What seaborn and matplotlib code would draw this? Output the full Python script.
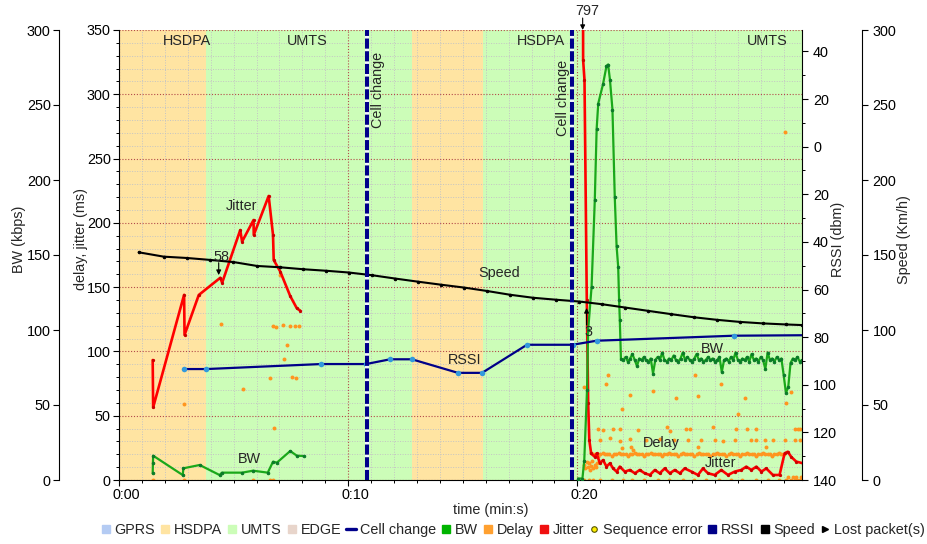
import numpy as np
import matplotlib
matplotlib.use("Agg")
import matplotlib.pyplot as plt
import seaborn as sns
from matplotlib.lines import Line2D
from matplotlib.ticker import MultipleLocator, FixedLocator, FuncFormatter
from matplotlib.transforms import ScaledTranslation

# ---------------- network periods (seconds) ----------------
span_start = [0.0, 3.81, 12.79, 15.87]
span_end = [3.81, 12.79, 15.87, 29.8]
span_net = ["HSDPA", "UMTS", "HSDPA", "UMTS"]
net_label_t = [2.97, 8.20, 18.41, 28.29]
cell_change_t = [10.82, 19.78]

# ---------------- speed (km/h) ----------------
speed_t = [0.86, 1.95, 2.97, 3.99, 4.99, 6.02, 7.04, 8.04, 9.04, 10.04, 11.05, 12.05,
           13.05, 14.05, 15.05, 16.06, 17.06, 18.06, 19.06, 20.07, 21.07, 22.07, 23.07,
           24.08, 25.08, 26.08, 27.08, 28.09, 29.09, 29.78]
speed_kmh = [151.8, 148.9, 148.0, 146.7, 145.3, 142.7, 141.8, 140.5, 139.5, 138.3, 136.5,
             134.3, 132.2, 130.2, 128.3, 126.0, 123.5, 121.5, 120.2, 119.0, 117.2, 115.0,
             112.8, 110.6, 108.5, 106.8, 105.4, 104.4, 103.7, 103.3]

# ---------------- RSSI (dBm) ----------------
rssi_t = [2.82, 3.81, 8.81, 10.78, 11.83, 12.78, 14.79, 15.84, 17.80, 19.79, 20.84, 26.82, 29.83]
rssi_dbm = [-93.4, -93.4, -91.3, -91.3, -89.3, -89.3, -95.0, -95.0, -83.2, -83.2, -81.5, -79.4, -79.2]

# ---------------- jitter (ms) ----------------
jitter1_t = [1.47, 1.49, 2.84, 2.86, 3.48, 4.42, 4.50, 5.29, 5.37, 5.87, 5.88, 6.53, 6.72,
             6.75, 7.04, 7.47, 7.76, 7.91]
jitter1_ms = [93.3, 56.5, 144.0, 112.8, 143.9, 157.3, 153.4, 194.4, 185.4, 202.2, 190.6,
              220.9, 190.6, 171.1, 162.0, 143.1, 133.5, 131.7]
jitter2_t = [20.23, 20.25, 20.31, 20.41, 20.47, 20.52, 20.60, 20.76, 20.84, 20.98, 21.12,
             21.27, 21.42, 21.56, 21.71, 21.85, 22.07, 22.29, 22.51, 22.72, 22.94, 23.16,
             23.38, 23.59, 23.81, 24.03, 24.25, 24.47, 24.68, 24.98, 25.26, 25.48, 25.70,
             25.99, 26.28, 26.57, 26.86, 27.15, 27.37, 27.59, 27.81, 28.03, 28.24, 28.53,
             28.82, 29.04, 29.18, 29.33, 29.55, 29.84]
jitter2_ms = [797, 326.7, 311.1, 140, 60, 31, 20.7, 18, 20.7, 13, 15.5, 10.4, 13, 9, 6.5,
              10.4, 6.5, 7.8, 5.2, 7.8, 5.2, 3.9, 7.8, 5.2, 9, 5.2, 7.8, 5.2, 9, 6.5, 3.9,
              9, 5.2, 3.9, 7.8, 3.9, 6.5, 7.8, 10.4, 7.8, 10.4, 6.5, 9, 3.9, 3.9, 20.7, 22,
              18, 14.3, 13]

# ---------------- bandwidth (kbps) ----------------
bw1_t = [1.47, 1.48, 1.49, 2.78, 2.81, 3.52, 4.39, 4.49, 5.37, 5.85, 6.49, 6.72, 6.89,
         7.47, 7.76, 8.05]
bw1_kbps = [4.4, 11.1, 16.2, 3.3, 7.8, 10.0, 3.3, 4.9, 4.9, 6.2, 4.9, 12.2, 11.6, 19.3,
            16.2, 16.0]
bw2_t = [20.03, 20.22, 20.30, 20.42, 20.47, 20.62, 20.76, 20.84, 20.91, 21.12, 21.27,
         21.34, 21.42, 21.53, 21.63, 21.71, 21.78, 21.82, 21.85]
bw2_kbps = [1, 1, 13, 60, 100, 129, 187, 234, 251, 264, 276, 277, 267, 247, 189, 156,
            142, 120, 107]
# steady part, one sample every 0.1 s from 21.9 s
bw_steady_t0, bw_steady_dt = 21.9, 0.1
bw_steady_kbps = [81, 80, 82, 79, 81, 84, 80, 76, 81, 80,
                  82, 80, 79, 81, 71, 80, 82, 80, 85, 80,
                  79, 81, 80, 83, 80, 79, 81, 85, 80, 82,
                  80, 79, 81, 84, 80, 81, 79, 80, 82, 80,
                  81, 79, 80, 82, 72, 80, 81, 79, 82, 80,
                  85, 80, 79, 81, 80, 82, 79, 84, 80, 81,
                  79, 82, 80, 74, 85, 80, 81, 79, 82, 80,
                  81, 70, 58, 62, 78, 81, 80, 82, 79, 80]

# ---------------- one-way delay (ms) ----------------
delay_t = [4.47, 2.85, 5.39, 6.72, 6.86, 7.14, 7.47, 7.66, 7.86, 7.34, 7.22, 6.57, 7.55,
           7.73, 6.75, 7.04, 1.49, 2.82, 5.85, 6.57, 6.72,
           20.28, 21.27, 21.34, 22.29, 21.93, 23.30, 24.32, 25.12, 25.26, 26.28, 27.01,
           27.30, 29.12, 29.30, 29.07,
           20.91, 21.12, 21.56, 21.85, 22.65, 23.89, 24.03, 24.76, 24.90, 25.92, 26.94,
           27.42, 27.81, 29.48, 29.62, 29.70,
           20.98, 21.42, 21.85, 22.30, 23.00, 23.60, 24.20, 24.83, 25.41, 25.99, 26.35,
           26.86, 27.59, 27.81, 28.17, 28.53, 29.04, 29.48, 29.70,
           21.93, 22.36, 22.43, 25.26, 28.24,
           20.30, 20.35, 20.40, 20.45, 20.50, 20.55, 20.60, 20.65, 20.70, 20.75, 20.80, 20.85,
           20.3, 20.5, 20.7, 21.0, 21.5, 22.0, 22.4, 22.9, 23.5, 24.0, 24.6, 25.1, 25.6,
           26.2, 26.7, 27.2, 27.8, 28.3, 28.8, 29.1, 29.3, 29.5, 29.6, 29.7,
           29.2, 29.4, 29.55, 29.75]
delay_ms = [121, 58.9, 70.8, 119.8, 119.3, 120.6, 119.8, 119.8, 119.8, 105, 93.9, 79.6, 80.2,
            79.6, 40.2, 159.4, 0, 0, 0, 0, 0,
            72, 75, 81.7, 66, 55, 69, 63.5, 81.7, 65.6, 74.7, 51.3, 63.5, 59.6, 68.7, 271,
            40, 39, 40, 40, 39, 41, 38, 40, 40, 41, 40, 40, 40, 40, 40, 40,
            31, 33, 30, 32, 31, 32, 31, 31, 31, 31, 30, 31, 31, 31, 31, 31, 31, 31, 31,
            24.6, 26, 23, 26, 25.4,
            12, 9, 14, 10, 13, 8, 11, 15, 9, 12, 10, 13,
            0, 0, 0, 0, 0, 0, 0, 0, 0, 0, 0, 0, 0, 0, 0, 0, 0, 0, 0, 0, 0, 0, 0, 0,
            2.6, 2.6, 2.6, 2.6]
# dense delay band, one sample every 0.1 s from 20.6 s
delay_band_t0, delay_band_dt = 20.6, 0.1
delay_band_ms = [21, 20, 20, 19, 20, 21, 20, 20, 20, 19,
                 20, 20, 21, 20, 20, 20, 19, 20, 20, 21,
                 20, 20, 20, 19, 20, 20, 21, 20, 20, 20,
                 20, 19, 20, 20, 21, 20, 20, 20, 19, 20,
                 21, 20, 20, 20, 20, 19, 20, 21, 20, 20,
                 20, 20, 19, 20, 20, 21, 20, 20, 20, 19,
                 20, 21, 20, 20, 20, 19, 20, 20, 21, 20,
                 20, 20, 19, 20, 20, 21, 20, 20, 20, 19,
                 20, 20, 21, 20, 20]

# ---------------- style ----------------
sns.set_style("ticks")
plt.rcParams["font.family"] = ["Liberation Sans", "DejaVu Sans"]
FS = 10.4
NET_COLORS = {"GPRS": "#b4cbf3", "HSDPA": "#ffe4a2", "UMTS": "#ccfdb8", "EDGE": "#e8d5cb"}
C_BW, C_BW_MK = "#1aa81a", "#0b7a2a"
C_DELAY = "#ff951f"
C_JITTER = "#ff0000"
C_RSSI, C_RSSI_MK = "#000088", "#3399dd"
C_CELL = "#00008b"

W, H = 927, 544
L, R, T, B = 119, 802, 30, 480
fig = plt.figure(figsize=(W / 100, H / 100), dpi=100)
ax = fig.add_axes([L / W, 1 - B / H, (R - L) / W, (B - T) / H])
ax_bw = ax.twinx()
ax_rssi = ax.twinx()
ax_speed = ax.twinx()

# background periods
for t0, t1, net in zip(span_start, span_end, span_net):
    ax.axvspan(t0, t1, color=NET_COLORS[net], lw=0, zorder=0)

# grid
ax.set_axisbelow(True)
ax.grid(which="major", color="#b34a4a", ls=(0, (1, 1.6)), lw=0.8)
ax.grid(which="minor", color="#c4c4c4", ls=(0, (1, 1.6)), lw=0.7)

# delay and jitter
band_t = delay_band_t0 + delay_band_dt * np.arange(len(delay_band_ms))
sns.scatterplot(x=list(delay_t) + list(band_t), y=list(delay_ms) + list(delay_band_ms),
                color=C_DELAY, s=8, linewidth=0, ax=ax, zorder=2)
for jt, jv in ((jitter1_t, jitter1_ms), (jitter2_t, jitter2_ms)):
    sns.lineplot(x=jt, y=jv, sort=False, estimator=None, color=C_JITTER, lw=1.9,
                 marker="o", markersize=1.6, markeredgecolor="#cc0000",
                 markerfacecolor="#cc0000", ax=ax, zorder=3)

# bandwidth
steady_t = bw_steady_t0 + bw_steady_dt * np.arange(len(bw_steady_kbps))
bw_second_t = list(bw2_t) + list(steady_t)
bw_second_v = list(bw2_kbps) + list(bw_steady_kbps)
for bt, bv in ((bw1_t, bw1_kbps), (bw_second_t, bw_second_v)):
    sns.lineplot(x=bt, y=bv, sort=False, estimator=None, color=C_BW, lw=1.6,
                 marker="o", markersize=1.8, markerfacecolor=C_BW_MK,
                 markeredgecolor=C_BW_MK, ax=ax_bw)

# RSSI
sns.lineplot(x=rssi_t, y=rssi_dbm, sort=False, estimator=None, color=C_RSSI, lw=1.6,
             ax=ax_rssi)
sns.scatterplot(x=rssi_t[:-1], y=rssi_dbm[:-1], color=C_RSSI_MK, s=16, linewidth=0,
                ax=ax_rssi, zorder=3)

# speed
sns.lineplot(x=speed_t, y=speed_kmh, sort=False, estimator=None, color="black", lw=1.5,
             marker="o", markersize=1.8, markeredgecolor="black", ax=ax_speed)

# cell changes
for tc in cell_change_t:
    ax_speed.axvline(tc, color=C_CELL, lw=2.9, dashes=(2.5, 0.65), gapcolor="#f2f4ff",
                     zorder=5)

# ---------------- axes ----------------
ax.set_xlim(0, 29.8)
ax.set_ylim(0, 350)
ax_bw.set_ylim(0, 300)
ax_rssi.set_ylim(-140, 49)
ax_speed.set_ylim(0, 300)

ax.xaxis.set_major_locator(FixedLocator([0, 10, 20]))
ax.xaxis.set_minor_locator(MultipleLocator(1))
ax.xaxis.set_major_formatter(FuncFormatter(lambda v, p: f"{int(v // 60)}:{int(v % 60):02d}"))
ax.yaxis.set_major_locator(MultipleLocator(50))
ax.yaxis.set_minor_locator(MultipleLocator(10))
ax_bw.yaxis.set_major_locator(MultipleLocator(50))
ax_speed.yaxis.set_major_locator(MultipleLocator(50))
ax_rssi.yaxis.set_major_locator(MultipleLocator(20))
ax_rssi.yaxis.set_minor_locator(MultipleLocator(10))
ax_rssi.yaxis.set_major_formatter(FuncFormatter(lambda v, p: f"{abs(v):.0f}"))

ax_bw.yaxis.tick_left()
ax_bw.yaxis.set_label_position("left")
ax_bw.spines["left"].set_position(("outward", 43.2))
ax_speed.spines["right"].set_position(("outward", 43.2))

for a in (ax, ax_bw, ax_rssi, ax_speed):
    for s in a.spines.values():
        s.set_visible(False)
        s.set_color("black")
        s.set_linewidth(0.8)
    a.tick_params(which="major", length=4, width=0.8, direction="out", colors="black",
                  labelsize=FS, pad=2)
    a.tick_params(which="minor", length=2.2, width=0.7, direction="out", colors="black")
ax.spines["left"].set_visible(True)
ax.spines["bottom"].set_visible(True)
ax_bw.spines["left"].set_visible(True)
ax_rssi.spines["right"].set_visible(True)
ax_speed.spines["right"].set_visible(True)
ax_rssi.tick_params(axis="y", which="major", pad=4)
ax_speed.tick_params(axis="y", which="major", pad=3.5)

ax.set_xlabel("time (min:s)", fontsize=FS)
ax.xaxis.set_label_coords(0.545, -0.0667)
ax.xaxis.label.set_va("center")
labels = ((ax, "delay, jitter (ms)", -0.0556), (ax_bw, "BW (kbps)", -0.1457),
          (ax_rssi, "RSSI (dbm)", 1.0525), (ax_speed, "Speed (Km/h)", 1.149))
for a, txt, xpos in labels:
    a.set_ylabel(txt, fontsize=FS)
    a.yaxis.set_label_coords(xpos, 0.535)
    a.yaxis.label.set_va("center")

shift = ScaledTranslation(7 / 100, 0, fig.dpi_scale_trans)
for lab in ax.get_xticklabels():
    lab.set_transform(lab.get_transform() + shift)

# ---------------- annotations ----------------
for t, net in zip(net_label_t, span_net):
    ax.text(t, 338.1, net, ha="center", va="baseline", fontsize=FS)
ax_speed.text(11.3, 303.3 * 300 / 350, "Cell change", rotation=90, ha="center",
              va="center", fontsize=FS, zorder=6)
ax_speed.text(19.37, 296.9 * 300 / 350, "Cell change", rotation=90, ha="center",
              va="center", fontsize=FS, zorder=6)
ax.text(5.33, 210, "Jitter", ha="center", va="baseline", fontsize=FS)
ax.text(26.26, 10.1, "Jitter", ha="center", va="baseline", fontsize=FS, zorder=6)
ax.text(23.65, 25.3, "Delay", ha="center", va="baseline", fontsize=FS)
ax_bw.text(5.69, 11.3, "BW", ha="center", va="baseline", fontsize=FS)
ax_bw.text(25.91, 84.7, "BW", ha="center", va="baseline", fontsize=FS)
ax_rssi.text(15.1, -91.3, "RSSI", ha="center", va="baseline", fontsize=FS)
ax_speed.text(16.58, 135.3, "Speed", ha="center", va="baseline", fontsize=FS)

arrow = dict(arrowstyle="-|>", color="black", lw=0.8, mutation_scale=7, shrinkA=0,
             shrinkB=0)
ax_speed.text(4.47, 170.3 * 300 / 350, "58", ha="center", va="baseline", fontsize=FS)
ax_speed.annotate("", xy=(4.35, 159.4 * 300 / 350), xytext=(4.35, 169.0 * 300 / 350),
                  arrowprops=arrow)
ax_speed.text(20.41, 361.7 * 300 / 350, "797", ha="center", va="baseline", fontsize=FS,
              clip_on=False)
ax_speed.annotate("", xy=(20.23, 350 * 300 / 350), xytext=(20.23, 359.3 * 300 / 350),
                  arrowprops=arrow, annotation_clip=False)
ax_speed.text(20.47, 111.8 * 300 / 350, "3", ha="center", va="baseline", fontsize=FS)
ax_speed.annotate("", xy=(20.40, 133.8 * 300 / 350), xytext=(20.40, 120.6 * 300 / 350),
                  arrowprops=arrow)

# ---------------- legend ----------------
def sq(color):
    return Line2D([], [], ls="none", marker="s", markersize=6, markerfacecolor=color,
                  markeredgecolor=color)

handles = [sq(NET_COLORS["GPRS"]), sq(NET_COLORS["HSDPA"]), sq(NET_COLORS["UMTS"]),
           sq(NET_COLORS["EDGE"]), Line2D([], [], color=C_CELL, lw=2.4),
           sq("#00b400"), sq("#ffa030"), sq("#f01010"),
           Line2D([], [], ls="none", marker="o", markersize=4, markerfacecolor="#ffee00",
                  markeredgecolor="#555500", markeredgewidth=0.8),
           sq(C_RSSI), sq("black"),
           Line2D([], [], ls="none", marker=">", markersize=5, color="black")]
names = ["GPRS", "HSDPA", "UMTS", "EDGE", "Cell change", "BW", "Delay", "Jitter",
         "Sequence error", "RSSI", "Speed", "Lost packet(s)"]
fig.legend(handles, names, loc="center", bbox_to_anchor=(0.553, 0.026), ncol=12,
           frameon=False, fontsize=FS, handlelength=0.7, handletextpad=0.25,
           columnspacing=0.35, borderaxespad=0, borderpad=0)

fig.savefig("out.png", dpi=100)
